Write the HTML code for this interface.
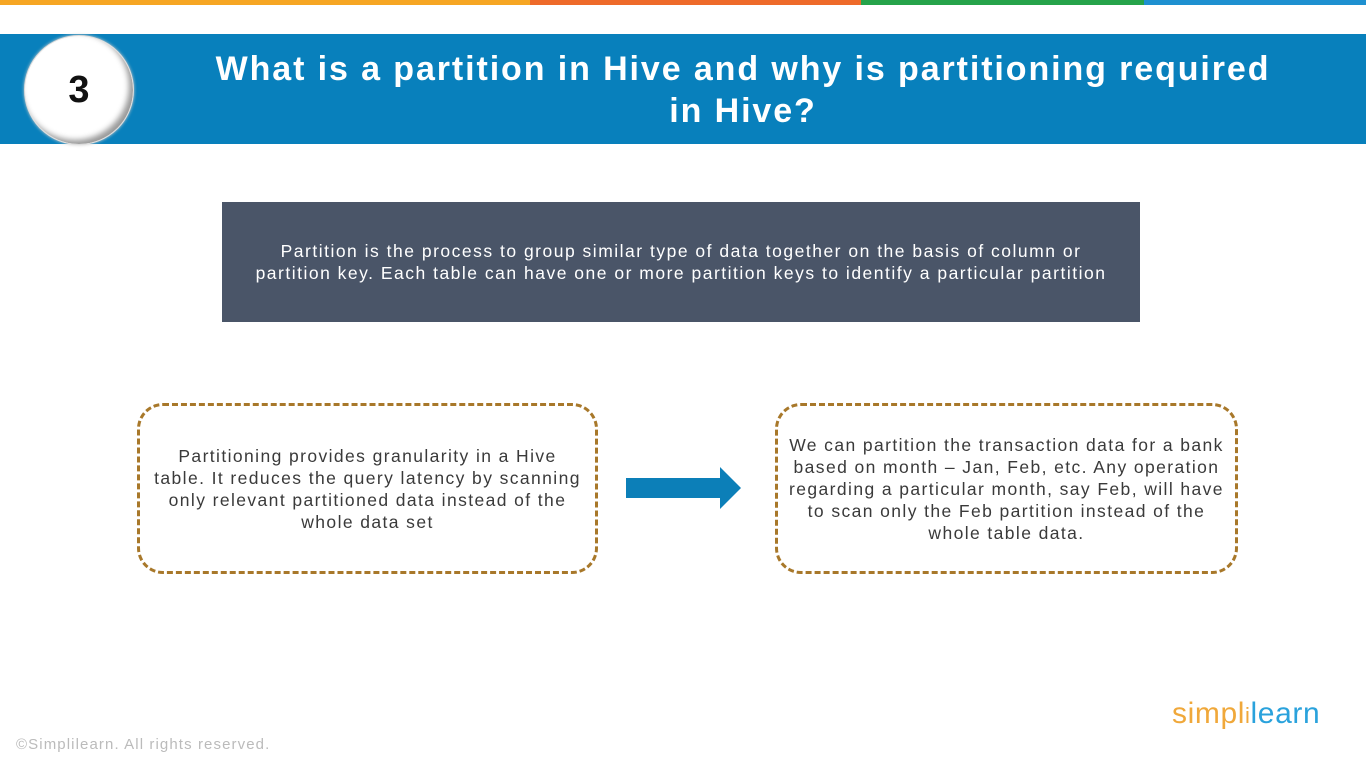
<!DOCTYPE html>
<html><head><style>
body{margin:0;width:1366px;height:768px;background:#fff;position:relative;overflow:hidden;font-family:"Liberation Sans",sans-serif}
.a{position:absolute}
.box{position:absolute;border:3px dashed #a8782a;border-radius:26px;box-sizing:border-box;display:flex;align-items:center;justify-content:center;text-align:center;font-size:17.5px;color:#3a3a3a;line-height:22px;letter-spacing:1.4px}
</style></head><body>
<div class="a" style="left:0;top:0;width:530px;height:5px;background:#f6a623"></div>
<div class="a" style="left:530px;top:0;width:331px;height:5px;background:#ee6a2a"></div>
<div class="a" style="left:861px;top:0;width:283px;height:5px;background:#26a34a"></div>
<div class="a" style="left:1144px;top:0;width:222px;height:5px;background:#1e90d0"></div>
<div class="a" style="left:0;top:34px;width:1366px;height:110px;background:#0880bc"></div>
<div class="a" style="left:24px;top:35px;width:110px;height:110px;border-radius:50%;background:#fff;box-shadow:inset -4px -4px 6px #999,0 0 3px #ccc;border:1px solid #ddd;box-sizing:border-box;display:flex;align-items:center;justify-content:center;font-weight:bold;font-size:38px;color:#111">3</div>
<div class="a" style="left:160px;top:48px;width:1166px;text-align:center;color:#fff;font-weight:bold;font-size:34px;line-height:42px;letter-spacing:1.9px">What is a partition in Hive and why is partitioning required<br>in Hive?</div>
<div class="a" style="left:222px;top:202px;width:918px;height:120px;background:#4a5568;color:#fff;font-size:17.5px;line-height:22px;display:flex;align-items:center;justify-content:center;text-align:center;letter-spacing:1.5px">Partition is the process to group similar type of data together on the basis of column or<br>partition key. Each table can have one or more partition keys to identify a particular partition</div>
<div class="box" style="left:137px;top:403px;width:461px;height:171px">Partitioning provides granularity in a Hive<br>table. It reduces the query latency by scanning<br>only relevant partitioned data instead of the<br>whole data set</div>
<div class="box" style="left:775px;top:403px;width:463px;height:171px">We can partition the transaction data for a bank<br>based on month – Jan, Feb, etc. Any operation<br>regarding a particular month, say Feb, will have<br>to scan only the Feb partition instead of the<br>whole table data.</div>
<svg class="a" style="left:620px;top:460px" width="130" height="56"><polygon points="6,18 100,18 100,7 121,28 100,49 100,38 6,38" fill="#0c7fb8"/></svg>
<div class="a" style="left:16px;top:736px;font-size:15px;color:#bbb;letter-spacing:1.1px">©Simplilearn. All rights reserved.</div>
<div class="a" style="left:1172px;top:697px;font-size:30px;letter-spacing:0.6px"><span style="color:#f0a83a">simpl</span><span style="color:#f0a83a;font-size:22px">i</span><span style="color:#2aa2dc">learn</span></div>
</body></html>
